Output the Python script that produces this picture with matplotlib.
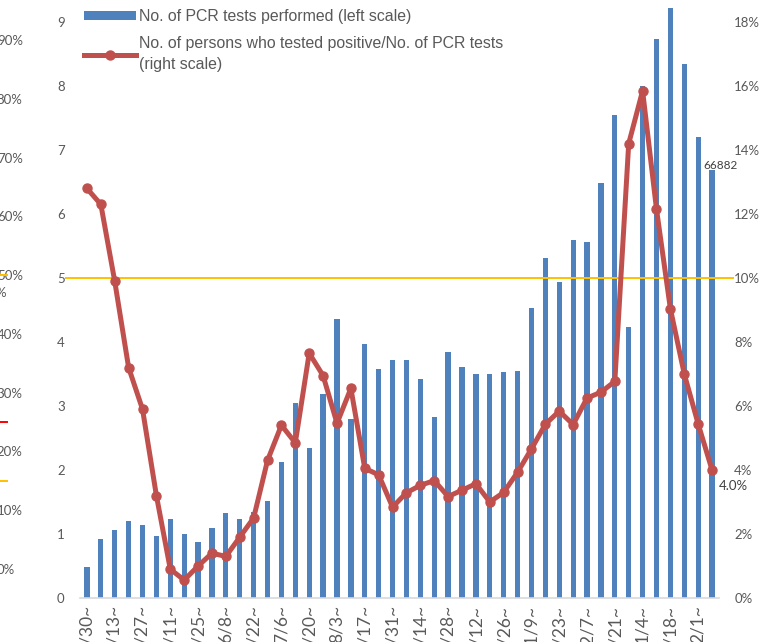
import matplotlib
matplotlib.use("Agg")
import matplotlib.pyplot as plt
from matplotlib.lines import Line2D
from matplotlib.patches import Patch
from matplotlib.ticker import PercentFormatter

# weekly periods (start of week)
weeks = ["3/30", "4/6", "4/13", "4/20", "4/27", "5/4", "5/11", "5/18", "5/25",
         "6/1", "6/8", "6/15", "6/22", "6/29", "7/6", "7/13", "7/20", "7/27",
         "8/3", "8/10", "8/17", "8/24", "8/31", "9/7", "9/14", "9/21", "9/28",
         "10/5", "10/12", "10/19", "10/26", "11/2", "11/9", "11/16", "11/23",
         "11/30", "12/7", "12/14", "12/21", "12/28", "1/4", "1/11", "1/18",
         "1/25", "2/1", "2/8"]

# PCR tests performed, in ten thousands (left scale)
tests = [0.48, 0.92, 1.06, 1.20, 1.14, 0.97, 1.23, 1.00, 0.88, 1.09,
         1.33, 1.24, 1.35, 1.52, 2.12, 3.05, 2.34, 3.19, 4.36, 2.80,
         3.97, 3.58, 3.72, 3.72, 3.42, 2.83, 3.85, 3.61, 3.50, 3.50,
         3.53, 3.55, 4.53, 5.32, 4.94, 5.60, 5.56, 6.48, 7.55, 4.23,
         8.00, 8.74, 9.22, 8.35, 7.21, 6.6882]

# positives / PCR tests, % (right scale)
positivity = [12.8, 12.3, 9.9, 7.2, 5.9, 3.2, 0.9, 0.56, 1.0, 1.4,
              1.3, 1.9, 2.5, 4.3, 5.4, 4.85, 7.65, 6.95, 5.46, 6.55,
              4.05, 3.85, 2.84, 3.29, 3.52, 3.67, 3.17, 3.37, 3.57, 3.0,
              3.3, 3.93, 4.66, 5.43, 5.84, 5.42, 6.25, 6.43, 6.77, 14.2,
              15.85, 12.15, 9.04, 7.0, 5.44, 4.0]

threshold = 10  # % reference line

# neighbouring chart fragment on the far left
frag_ticks = list(range(0, 100, 10))
frag_lines = [(50, "#FFC000"), (25, "#FF0000"), (15, "#FFC000")]

BLUE = "#4F81BD"
RED = "#C0504D"
GOLD = "#FFC000"
GREY = "#595959"
TICK_FONT = "Lato"

W, H = 759, 642
fig = plt.figure(figsize=(W / 100, H / 100), dpi=100)

# main axes: x from 80px to 719px, 0 at y=598px, 10 at y=-42px
ax = fig.add_axes([80 / W, (H - 598) / H, 639 / W, 640 / H])
x = list(range(len(weeks)))
ax.bar(x, tests, width=0.38, color=BLUE, zorder=2)
ax.set_xlim(-0.5, len(weeks) - 0.5)
ax.set_ylim(0, 10)
ax.set_yticks(range(0, 11))
for s in ["top", "left", "right"]:
    ax.spines[s].set_visible(False)
ax.spines["bottom"].set_color("#D9D9D9")
ax.spines["bottom"].set_linewidth(1.2)
ax.set_xticks(x[::2])
ax.set_xticklabels([w + "~" for w in weeks[::2]], rotation=90)
ax.tick_params(axis="x", length=0, pad=5, labelsize=12.5, labelcolor=GREY)
ax.tick_params(axis="y", length=0, pad=11, labelsize=9.5, labelcolor=GREY)
for lab in ax.get_xticklabels() + ax.get_yticklabels():
    lab.set_family(TICK_FONT)

ax2 = ax.twinx()
ax2.set_ylim(0, 20)
ax2.set_yticks(range(0, 21, 2))
ax2.yaxis.set_major_formatter(PercentFormatter(decimals=0))
ax2.axhline(threshold, xmin=-0.022, xmax=1.022, color=GOLD, lw=1.4,
            clip_on=False, zorder=1)
ax2.plot(x, positivity, color=RED, lw=3.6, marker="o", ms=6.5, zorder=3)
for s in ["top", "left", "right", "bottom"]:
    ax2.spines[s].set_visible(False)
ax2.tick_params(axis="y", length=0, pad=11, labelsize=9.5, labelcolor=GREY)
for lab in ax2.get_yticklabels():
    lab.set_family(TICK_FONT)

# data labels on the last week
ax.annotate(f"{round(tests[-1] * 10000)}", (x[-1], tests[-1]),
            xytext=(8, 4), textcoords="offset pixels", ha="center",
            va="center", fontsize=8.5, family=TICK_FONT, color="#404040")
ax2.annotate(f"{positivity[-1]:.1f}%", (x[-1], positivity[-1]),
             xytext=(21, -16), textcoords="offset pixels", ha="center",
             va="center", fontsize=9.5, family=TICK_FONT, color="#404040")

# legend
handles = [Patch(facecolor=BLUE, edgecolor="none"),
           Line2D([], [], color=RED, lw=3.6, marker="o", ms=6.5)]
labels = ["No. of PCR tests performed (left scale)",
          "No. of persons who tested positive/No. of PCR tests\n(right scale)"]
leg = fig.legend(handles, labels, loc="upper left",
                 bbox_to_anchor=(84 / W, 1 - 9 / H), frameon=False,
                 prop={"family": "Liberation Sans", "size": 11.4},
                 handlelength=3.3, handleheight=0.5, handletextpad=0.2,
                 labelspacing=0.75, borderpad=0, borderaxespad=0)
for t in leg.get_texts():
    t.set_color(GREY)
    t.set_linespacing(1.5)

# fragment of the neighbouring chart (cut off at the left edge)
axf = fig.add_axes([-46 / W, (H - 569) / H, 40 / W, 529 / H])
axf.set_ylim(0, 90)
axf.set_xlim(0, 1)
for s in axf.spines.values():
    s.set_visible(False)
axf.patch.set_visible(False)
axf.set_xticks([])
axf.yaxis.tick_right()
axf.set_yticks(frag_ticks)
axf.yaxis.set_major_formatter(PercentFormatter(decimals=0))
axf.tick_params(axis="y", length=0, pad=2, labelsize=9.5, labelcolor=GREY)
for lab in axf.get_yticklabels():
    lab.set_family(TICK_FONT)
for val, col in frag_lines:
    axf.axhline(val, xmin=1.0, xmax=1.33, color=col, lw=1.4, clip_on=False)
axf.text(1.3, 47, "%", transform=axf.get_yaxis_transform(), ha="right",
         va="center", fontsize=9.5, family=TICK_FONT, color=GREY)

fig.savefig("out.png", dpi=100)
